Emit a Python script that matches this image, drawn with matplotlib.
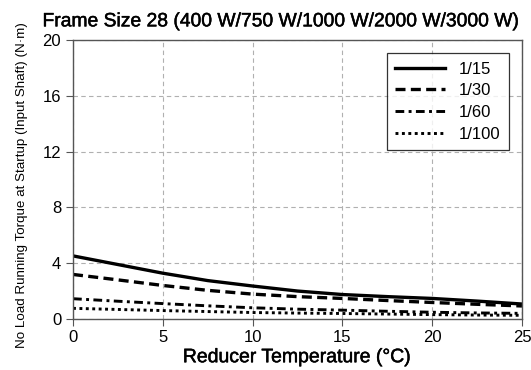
import matplotlib
matplotlib.use("Agg")
from matplotlib import pyplot as plt
import matplotlib.patheffects as pe

plt.rcParams['font.family'] = ['Liberation Sans', 'DejaVu Sans']

temp = [0, 2.5, 5, 7.5, 10, 12.5, 15, 17.5, 20, 22.5, 25]
r15 = [4.52, 3.9, 3.28, 2.75, 2.36, 2.0, 1.75, 1.6, 1.47, 1.28, 1.07]
r30 = [3.19, 2.8, 2.4, 2.05, 1.78, 1.6, 1.47, 1.32, 1.18, 1.05, 0.93]
r60 = [1.45, 1.27, 1.1, 0.94, 0.8, 0.7, 0.63, 0.55, 0.48, 0.43, 0.4]
r100 = [0.76, 0.68, 0.6, 0.53, 0.46, 0.42, 0.39, 0.35, 0.31, 0.28, 0.26]
labels = ['1/15', '1/30', '1/60', '1/100']

fig = plt.figure(figsize=(5.31, 3.70), dpi=100)
ax = fig.add_axes([0.1375, 0.138, 0.8455, 0.754])

ax.plot(temp, r15, '-', color='black', lw=2.4, label=labels[0])
ax.plot(temp, r30, color='black', lw=2.4, dashes=(3, 1.6), label=labels[1])
ax.plot(temp, r60, color='black', lw=2.1, dashes=(3, 1.5, 1, 1.5), label=labels[2])
ax.plot(temp, r100, color='black', lw=2.1, dashes=(1, 1.2), label=labels[3])

ax.set_xlim(0, 25)
ax.set_ylim(0, 20)
ax.set_xticks([0, 5, 10, 15, 20, 25])
ax.set_yticks([0, 4, 8, 12, 16, 20])
ax.grid(True, color='#b0b0b0', ls=(0, (4, 3)), lw=0.8)
for s in ax.spines.values():
    s.set_color('#555555')
    s.set_linewidth(1.0)
ax.tick_params(axis='both', labelsize=12, color='#555555', length=5, direction='out')
ax.tick_params(axis='x', pad=3)

# medium weight look: regular face with a thin outline
medium = [pe.withStroke(linewidth=0.35, foreground='black')]
xl = ax.set_xlabel('Reducer Temperature (°C)', fontsize=14, labelpad=3)
xl.set_path_effects(medium)
ax.set_ylabel('No Load Running Torque at Startup (Input Shaft) (N·m)', fontsize=9.6)
ax.yaxis.set_label_coords(-0.1, 0.48)
tt = fig.text(0.08, 0.918, 'Frame Size 28 (400 W/750 W/1000 W/2000 W/3000 W)',
              fontsize=13.9, ha='left', va='bottom')
tt.set_path_effects(medium)

leg = ax.legend(loc='upper right', fontsize=12, frameon=True, fancybox=False,
                handlelength=3.0, borderaxespad=0.8, labelspacing=0.4, borderpad=0.5)
leg.get_frame().set_edgecolor('black')
leg.get_frame().set_linewidth(0.9)

fig.savefig('out.png', dpi=100)
